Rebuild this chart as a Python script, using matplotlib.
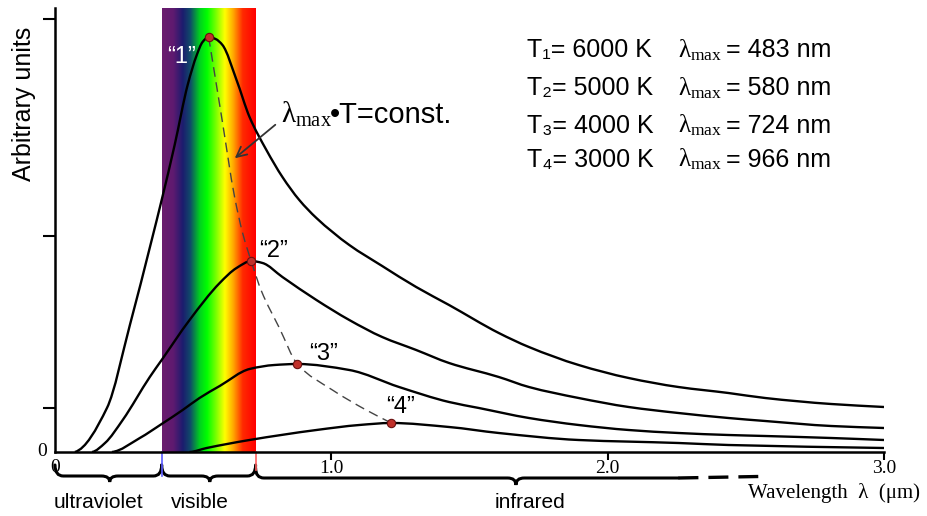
import matplotlib
matplotlib.use("Agg")
import matplotlib.pyplot as plt
import numpy as np
from matplotlib.path import Path
from matplotlib.patches import PathPatch
from matplotlib.colors import LinearSegmentedColormap

plt.rcParams['font.family'] = ['Liberation Sans', 'DejaVu Sans']
plt.rcParams['mathtext.fontset'] = 'custom'
plt.rcParams['mathtext.rm'] = 'Liberation Serif'
plt.rcParams['mathtext.it'] = 'Liberation Serif'

# curves (wavelength in um, arbitrary units)
x1 = [0.072, 0.188, 0.271, 0.350, 0.386, 0.433, 0.480, 0.513, 0.534, 0.556, 0.581, 0.606,
      0.657, 0.704, 0.765, 0.823, 0.884, 0.946, 1.065, 1.184, 1.307, 1.426, 1.606, 1.715, 1.895,
      2.076, 2.256, 2.437, 2.570, 2.809, 3.0]
y1 = [0.0, 0.44, 1.27, 2.12, 2.52, 3.07, 3.67, 3.97, 4.10, 4.15, 4.13, 4.07,
      3.72, 3.35, 3.02, 2.75, 2.52, 2.34, 2.07, 1.86, 1.65, 1.47, 1.19, 1.05, 0.87,
      0.74, 0.65, 0.59, 0.54, 0.48, 0.45]

x2 = [0.134, 0.181, 0.245, 0.343, 0.386, 0.487, 0.596, 0.657, 0.711, 0.751, 0.823, 0.946, 1.065,
      1.184, 1.307, 1.426, 1.606, 1.715, 1.895, 2.076, 2.256, 2.437, 2.570, 2.809, 3.0]
y2 = [0.0, 0.09, 0.32, 0.75, 0.92, 1.32, 1.69, 1.84, 1.91, 1.89, 1.75, 1.52, 1.32,
      1.15, 1.02, 0.89, 0.75, 0.65, 0.54, 0.45, 0.39, 0.34, 0.31, 0.26, 0.24]

x3 = [0.206, 0.307, 0.386, 0.462, 0.523, 0.596, 0.704, 0.794, 0.877, 1.065, 1.245, 1.426, 1.534,
      1.715, 1.895, 2.076, 2.256, 2.437, 2.570, 2.809, 3.0]
y3 = [0.0, 0.14, 0.28, 0.42, 0.54, 0.66, 0.83, 0.87, 0.88, 0.82, 0.65, 0.50, 0.44,
      0.34, 0.27, 0.22, 0.19, 0.17, 0.16, 0.14, 0.12]

x4 = [0.487, 0.549, 0.704, 0.946, 1.101, 1.217, 1.426, 1.606, 1.895, 2.256, 2.437, 3.0]
y4 = [0.0, 0.04, 0.12, 0.22, 0.27, 0.29, 0.25, 0.19, 0.12, 0.09, 0.07, 0.04]

# lambda_max * T = const line
xw = [0.556, 0.603, 0.650, 0.679, 0.711, 0.747, 0.812, 0.877, 1.004, 1.126, 1.217]
yw = [4.15, 3.35, 2.55, 2.19, 1.90, 1.61, 1.24, 0.88, 0.62, 0.42, 0.29]

peak_x = [0.556, 0.711, 0.877, 1.217]
peak_y = [4.15, 1.91, 0.88, 0.29]
peak_names = ["\u201c1\u201d", "\u201c2\u201d", "\u201c3\u201d", "\u201c4\u201d"]

temps = ["6000", "5000", "4000", "3000"]
subs = ["\u2081", "\u2082", "\u2083", "\u2084"]
lmax = ["483", "580", "724", "966"]

vis_lo, vis_hi = 0.386, 0.726
ytick_pos = [0.44, 2.16, 4.33]


def smooth_path(xs, ys, start_slope=0.0):
    # monotone cubic (Fritsch-Carlson) drawn as bezier segments
    x = np.asarray(xs, float)
    y = np.asarray(ys, float)
    h = np.diff(x)
    d = np.diff(y) / h
    m = np.zeros(len(x))
    for k in range(1, len(x) - 1):
        if d[k - 1] * d[k] > 0:
            w1 = 2 * h[k] + h[k - 1]
            w2 = h[k] + 2 * h[k - 1]
            m[k] = (w1 + w2) / (w1 / d[k - 1] + w2 / d[k])
    m[0] = start_slope * d[0]
    m[-1] = d[-1]
    verts = [(x[0], y[0])]
    codes = [Path.MOVETO]
    for k in range(len(x) - 1):
        verts += [(x[k] + h[k] / 3, y[k] + m[k] * h[k] / 3),
                  (x[k + 1] - h[k] / 3, y[k + 1] - m[k + 1] * h[k] / 3),
                  (x[k + 1], y[k + 1])]
        codes += [Path.CURVE4] * 3
    return Path(verts, codes)


fig = plt.figure(figsize=(9.27, 5.16), dpi=100)
ax = fig.add_axes([55/927, 64/516, 829/927, 444/516])
ax.set_xlim(0, 3.0)
ax.set_ylim(0, 4.44)

# spectrum band
spec = LinearSegmentedColormap.from_list("spec", [
    (0.0, "#6b1d6e"), (0.12, "#5e1a70"), (0.22, "#1c1c6e"), (0.30, "#104a6a"),
    (0.40, "#00d020"), (0.48, "#00ff00"), (0.58, "#80ff00"), (0.67, "#ffff00"),
    (0.76, "#ffa800"), (0.86, "#ff2a00"), (1.0, "#ff0000")])
grad = np.linspace(0, 1, 256).reshape(1, -1)
ax.imshow(grad, cmap=spec, aspect='auto', extent=[vis_lo, vis_hi, 0, 4.44], zorder=0)

for xs, ys in [(x1, y1), (x2, y2), (x3, y3), (x4, y4)]:
    ax.add_patch(PathPatch(smooth_path(xs, ys, 0.2), fc='none', ec='black', lw=1.7, zorder=3))

ax.add_patch(PathPatch(smooth_path(xw, yw, 1.0), fc='none', ec='#444444', lw=1.0,
                       ls=(0, (7, 4)), zorder=3))
ax.scatter(peak_x, peak_y, s=36, color='#c0302a', edgecolor='#6a1010', lw=0.8, zorder=4)

label_pos = [(0.404, 3.89), (0.740, 1.95), (0.921, 0.92), (1.199, 0.39)]
for (lx, ly), name, c in zip(label_pos, peak_names, ['white', 'black', 'black', 'black']):
    ax.text(lx, ly, name, color=c, fontsize=17, ha='left', va='baseline', zorder=5)

# const label + arrow
ax.text(0.819, 3.29, r"$\lambda_{\mathrm{max}}$", fontsize=21, ha='left', va='baseline')
ax.text(0.993, 3.29, "\u2022T=const.", fontsize=21, ha='left', va='baseline')
ax.annotate("", xy=(0.643, 2.92), xytext=(0.805, 3.29),
            arrowprops=dict(arrowstyle='->', color='#333333', lw=1.3, mutation_scale=18))

# legend block
rows_y = [3.947, 3.567, 3.193, 2.853]
for s, t, l, yy in zip(subs, temps, lmax, rows_y):
    ax.text(1.708, yy, "T%s= %s K" % (s, t), fontsize=18, ha='left', va='baseline')
    ax.text(2.256, yy, r"$\lambda_{\mathrm{max}}$", fontsize=18, ha='left', va='baseline')
    ax.text(2.43, yy, "= %s nm" % l, fontsize=18, ha='left', va='baseline')

# axes styling
for s in ['top', 'right']:
    ax.spines[s].set_visible(False)
for s in ['left', 'bottom']:
    ax.spines[s].set_linewidth(1.8)
ax.set_yticks(ytick_pos)
ax.set_yticklabels([])
ax.set_xticks([1.0, 2.0, 3.0])
ax.set_xticklabels(["1.0", "2.0", "3.0"], family='Liberation Serif', fontsize=14)
ax.tick_params(axis='y', direction='out', length=9, width=1.5)
ax.tick_params(axis='x', direction='out', length=6, width=1.5, pad=0)
ax.text(0, -0.16, "0", family='Liberation Serif', fontsize=14, ha='center', va='center',
        clip_on=False)
ax.text(-0.047, 0.01, "0", family='Liberation Serif', fontsize=14, ha='center', va='center',
        clip_on=False)
fig.text(24/927, 1 - 104/516, "Arbitrary units", rotation=90, fontsize=18,
         ha='center', va='center')

# band edge marks below axis
ax.plot([vis_lo, vis_lo], [0, -0.24], color='#5a5aff', lw=1.2, clip_on=False)
ax.plot([vis_hi, vis_hi], [0, -0.18], color='#ff6060', lw=1.2, clip_on=False)


def brace(x0, x1, xc, ytop, ymain, ybot, right_end=True):
    d = 0.03
    verts = [(x0, ytop), (x0, ymain), (x0 + d, ymain), (xc - d, ymain), (xc, ymain), (xc, ybot),
             (xc, ymain), (xc + d, ymain), (x1 - d, ymain)]
    codes = [Path.MOVETO, Path.CURVE3, Path.CURVE3, Path.LINETO, Path.CURVE3, Path.CURVE3,
             Path.CURVE3, Path.CURVE3, Path.LINETO]
    if right_end:
        verts += [(x1, ymain), (x1, ytop)]
        codes += [Path.CURVE3, Path.CURVE3]
    else:
        verts[-1] = (x1, ymain)
    ax.add_patch(PathPatch(Path(verts, codes), fc='none', ec='black', lw=2.2, clip_on=False,
                           capstyle='round'))


brace(0.0, vis_lo, 0.198, -0.13, -0.24, -0.30)
brace(vis_lo, vis_hi, 0.560, -0.13, -0.24, -0.30)
brace(vis_hi, 2.256, 1.668, -0.16, -0.26, -0.33, right_end=False)
ax.plot([2.256, 2.545], [-0.26, -0.245], color='black', lw=2.4, dashes=(6, 3), clip_on=False)

ax.text(0.159, -0.50, "ultraviolet", fontsize=15, ha='center', va='center')
ax.text(0.523, -0.50, "visible", fontsize=15, ha='center', va='center')
ax.text(1.718, -0.50, "infrared", fontsize=15, ha='center', va='center')
ax.text(3.13, -0.41, "Wavelength  \u03bb  (\u03bcm)", family='Liberation Serif', fontsize=15,
        ha='right', va='center', clip_on=False)

fig.savefig("out.png", dpi=100, facecolor='white')
